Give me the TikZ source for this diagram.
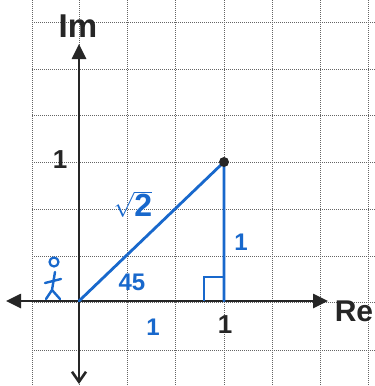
\documentclass[tikz,border=0pt]{standalone}
\usepackage{fontspec}
\setmainfont{Liberation Sans}
\usetikzlibrary{arrows.meta}
\definecolor{penblue}{RGB}{24,104,204}
\definecolor{gridgray}{RGB}{100,100,100}
\tikzset{
  gridline/.style={gridgray, line width=0.8pt, dash pattern=on 1.2pt off 0.8pt},
  axisline/.style={black!85, line width=2.6pt},
  blueline/.style={penblue, line width=2.8pt, line cap=round},
  bluelabel/.style={penblue, font=\bfseries\fontsize{24}{24}\selectfont, inner sep=0pt},
  blacklabel/.style={black!85, font=\bfseries\fontsize{26}{26}\selectfont, inner sep=0pt},
  tip/.style={-{Triangle[length=15pt,width=14pt]}}
}
\begin{document}
\begin{tikzpicture}[x=1pt,y=-1pt]
\useasboundingbox (0,0) rectangle (375,386);
\fill[white] (0,0) rectangle (375,386);
% grid
\foreach \gx in {32,79,127,175,224,272,320,368}
  \draw[gridline] (\gx,0) -- (\gx,386);
\foreach \gy in {22,69,115,162,209,256,302,350}
  \draw[gridline] (32,\gy) -- (375,\gy);
% axes
\coordinate (O) at (79,301);
\coordinate (xl) at (6,301);
\coordinate (xr) at (328,301);
\coordinate (yt) at (79,44);
\coordinate (yb) at (79,384);
\draw[axisline, tip] (O) -- (xr);
\draw[axisline, tip] (O) -- (xl);
\draw[axisline, tip] (O) -- (yt);
\draw[axisline, -{Straight Barb[length=10pt,width=14pt]}] (O) -- (yb);
\node[blacklabel, font=\bfseries\fontsize{33}{33}\selectfont] (im) at (78,26) {Im};
\node[blacklabel, font=\bfseries\fontsize{30}{30}\selectfont] (re) at (354,311) {Re};
\node[blacklabel] (ytick) at (60,160) {1};
\node[blacklabel] (xtick) at (225,325) {1};
% triangle
\coordinate (P) at (224,162);
\coordinate (F) at (224,301);
\draw[blueline] (O) -- (P) -- (F);
\draw[penblue, line width=2.2pt] (204,301) -- (204,277) -- (F |- 0,277);
\fill[black!85] (P) circle (5);
\node[bluelabel, font=\bfseries\fontsize{32}{32}\selectfont] (sq) at (133,204) {$\sqrt{\textbf{2}}$};
\node[bluelabel] (ang) at (132,282) {45};
\node[bluelabel] (base) at (153,327) {1};
\node[bluelabel] (height) at (241,242) {1};
% stick figure
\draw[penblue, line width=2.2pt] (54,262) circle (4.5);
\draw[penblue, line width=2.4pt, line cap=round] (55,272) -- (52,290) (45,283) -- (61,279) (52,290) -- (46,299) (52,290) -- (60,299);
\end{tikzpicture}
\end{document}
